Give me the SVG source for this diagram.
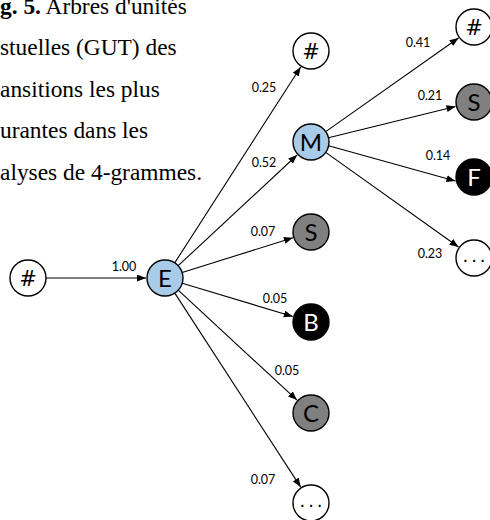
<svg xmlns="http://www.w3.org/2000/svg" width="490" height="520" viewBox="0 0 490 520">
<style>
.cap{font-family:"Liberation Serif","Times New Roman",serif;font-size:23.4px;fill:#000}
.lbl{font-family:Lato,"Open Sans",sans-serif;font-size:12.5px;fill:#000;text-anchor:middle}
.n{stroke:#000;stroke-width:1.4}
.white{fill:#fff}
.blue{fill:#a9cbea}
.gray{fill:#808080}
.black{fill:#000}
.nt{font-family:Lato,"Open Sans",sans-serif;font-size:24px;text-anchor:middle;fill:#000}
.nw{fill:#fff}
.hash{font-family:"DejaVu Sans",sans-serif;font-size:21px;text-anchor:middle;fill:#000}
.dots{font-family:"DejaVu Sans",sans-serif;font-size:18px;text-anchor:middle;fill:#000;letter-spacing:3px}
.e{stroke:#000;stroke-width:1.1;fill:none;marker-end:url(#ah)}
</style>
<defs>
<marker id="ah" markerUnits="userSpaceOnUse" markerWidth="10" markerHeight="8" refX="9" refY="3.5" orient="auto">
<path d="M0,0 L9,3.5 L0,7 z" fill="#000"/>
</marker>
</defs>
<rect width="490" height="520" fill="#fff"/>
<g id="caption">
<text class="cap" x="0" y="13.5"><tspan font-weight="bold">g. 5.</tspan> Arbres d'unités</text>
<text class="cap" x="0" y="55">stuelles (GUT) des</text>
<text class="cap" x="0" y="96.5">ansitions les plus</text>
<text class="cap" x="0" y="138">urantes dans les</text>
<text class="cap" x="0" y="179.5">alyses de 4-grammes.</text>
</g>
<g id="connectors">
<line class="e" x1="46" y1="278" x2="146" y2="278"/>
<line class="e" x1="174.7" y1="262.9" x2="300.7" y2="67"/>
<line class="e" x1="178.2" y1="265.7" x2="297.1" y2="155"/>
<line class="e" x1="182.2" y1="272.6" x2="292.9" y2="237.7"/>
<line class="e" x1="182.2" y1="283.2" x2="292.8" y2="316.5"/>
<line class="e" x1="178.2" y1="290.2" x2="297" y2="400.1"/>
<line class="e" x1="174.8" y1="293.1" x2="300.7" y2="487.1"/>
<line class="e" x1="325.7" y1="131.6" x2="458.5" y2="38"/>
<line class="e" x1="328.5" y1="137.7" x2="455.5" y2="106.5"/>
<line class="e" x1="328.6" y1="145.8" x2="455.4" y2="181"/>
<line class="e" x1="325.7" y1="152.4" x2="458.5" y2="247"/>
<text class="lbl" x="124" y="270.5">1.00</text>
<text class="lbl" x="264" y="91.5">0.25</text>
<text class="lbl" x="264" y="166.5">0.52</text>
<text class="lbl" x="263" y="235.5">0.07</text>
<text class="lbl" x="275" y="302.5">0.05</text>
<text class="lbl" x="287" y="374.5">0.05</text>
<text class="lbl" x="263" y="483.5">0.07</text>
<text class="lbl" x="418" y="46.5">0.41</text>
<text class="lbl" x="430" y="99.5">0.21</text>
<text class="lbl" x="438" y="159.5">0.14</text>
<text class="lbl" x="430" y="257.5">0.23</text>
</g>
<g id="n_root"><circle class="n white" cx="28" cy="278" r="18"/><text class="hash" x="28" y="285.5">#</text></g>
<g id="n_E"><circle class="n blue" cx="165" cy="278" r="18"/><text class="nt" x="165" y="286.5">E</text></g>
<g id="n_EH"><circle class="n white" cx="311" cy="51" r="18"/><text class="hash" x="311" y="58.5">#</text></g>
<g id="n_M"><circle class="n blue" cx="311" cy="142" r="18"/><text class="nt" x="311" y="150.5">M</text></g>
<g id="n_ES"><circle class="n gray" cx="311" cy="232" r="18"/><text class="nt" x="311" y="240.5">S</text></g>
<g id="n_EB"><circle class="n black" cx="311" cy="322" r="18"/><text class="nt nw" x="311" y="330.5">B</text></g>
<g id="n_EC"><circle class="n gray" cx="311" cy="413" r="18"/><text class="nt" x="311" y="421.5">C</text></g>
<g id="n_EX"><circle class="n white" cx="311" cy="503" r="18"/><text class="dots" x="312.5" y="507">...</text></g>
<g id="n_MH"><circle class="n white" cx="474" cy="27" r="18"/><text class="hash" x="474" y="34.5">#</text></g>
<g id="n_MS"><circle class="n gray" cx="474" cy="102" r="18"/><text class="nt" x="474" y="110.5">S</text></g>
<g id="n_MF"><circle class="n black" cx="474" cy="177" r="18"/><text class="nt nw" x="474" y="185.5">F</text></g>
<g id="n_MX"><circle class="n white" cx="474" cy="258" r="18"/><text class="dots" x="475.5" y="262">...</text></g>
</svg>
